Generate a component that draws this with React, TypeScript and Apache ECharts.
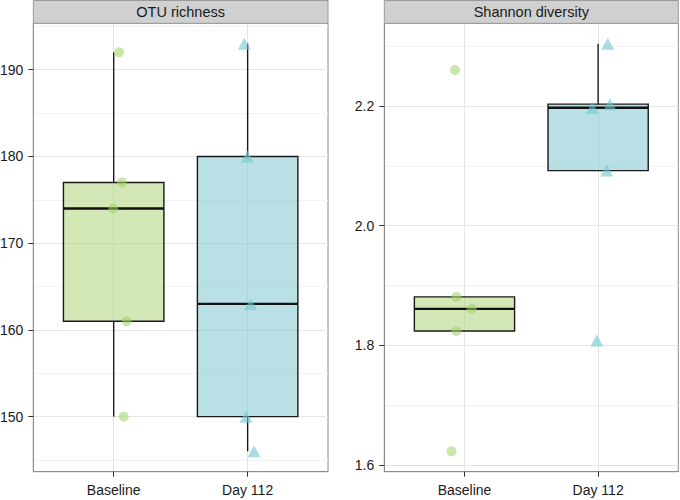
import React, { useEffect, useRef } from 'react';
import * as echarts from 'echarts';

const CATEGORIES = ['Baseline', 'Day 112'];
const PANEL_TITLES = ['OTU richness', 'Shannon diversity'];

const OTU_BASELINE = [192, 177, 174, 161, 150];
const OTU_BASELINE_JITTER = [0.04, 0.062, -0.003, 0.097, 0.075];
const OTU_DAY112 = [193, 180, 163, 150, 146];
const OTU_DAY112_JITTER = [-0.025, -0.002, 0.023, -0.012, 0.048];

const SHANNON_BASELINE = [2.26, 1.881, 1.861, 1.824, 1.623];
const SHANNON_BASELINE_JITTER = [-0.071, -0.061, 0.054, -0.061, -0.096];
const SHANNON_DAY112 = [2.304, 2.197, 2.203, 2.092, 1.808];
const SHANNON_DAY112_JITTER = [0.072, -0.043, 0.089, 0.064, -0.01];

const OTU_TICKS = [150, 160, 170, 180, 190];
const OTU_MINOR = [145, 155, 165, 175, 185, 195];
const SHANNON_TICKS = [1.6, 1.8, 2.0, 2.2];
const SHANNON_MINOR = [1.7, 1.9, 2.1, 2.3];

const BOX_FILLS = ['rgba(167,207,111,0.5)', 'rgba(115,195,203,0.5)'];
const POINT_COLORS = ['rgba(160,210,100,0.7)', 'rgba(110,200,208,0.75)'];
const BOX_WIDTH = 0.75;
const FONT = '"Liberation Sans", Arial, Helvetica, sans-serif';

function quantile(sorted: number[], p: number) {
  const h = (sorted.length - 1) * p;
  const lo = Math.floor(h);
  const hi = Math.ceil(h);
  return sorted[lo] + (h - lo) * (sorted[hi] - sorted[lo]);
}

function boxStats(vals: number[]) {
  const s = [...vals].sort((a, b) => a - b);
  const q1 = quantile(s, 0.25);
  const med = quantile(s, 0.5);
  const q3 = quantile(s, 0.75);
  const iqr = q3 - q1;
  const loLim = q1 - 1.5 * iqr;
  const hiLim = q3 + 1.5 * iqr;
  const lo = Math.min(...s.filter((v) => v >= loLim));
  const hi = Math.max(...s.filter((v) => v <= hiLim));
  return [lo, q1, med, q3, hi];
}

function expand(vals: number[]) {
  const mn = Math.min(...vals);
  const mx = Math.max(...vals);
  const pad = (mx - mn) * 0.05;
  return [mn - pad, mx + pad];
}

const PANELS = [
  {
    groups: [OTU_BASELINE, OTU_DAY112],
    jitter: [OTU_BASELINE_JITTER, OTU_DAY112_JITTER],
    ticks: OTU_TICKS,
    minor: OTU_MINOR,
    fmt: (v: number) => String(Math.round(v)),
  },
  {
    groups: [SHANNON_BASELINE, SHANNON_DAY112],
    jitter: [SHANNON_BASELINE_JITTER, SHANNON_DAY112_JITTER],
    ticks: SHANNON_TICKS,
    minor: SHANNON_MINOR,
    fmt: (v: number) => v.toFixed(1),
  },
];

const GRID_LEFT = [33.3, 384.3];
const GRID_WIDTH = [294.7, 294];
const GRID_TOP = 23.3;
const GRID_HEIGHT = 448.4;
const BORDER = '#8c8c8c';

export default function App() {
  const ref = useRef<HTMLDivElement>(null);

  useEffect(() => {
    if (!ref.current) return;
    const chart = echarts.init(ref.current, undefined, { renderer: 'svg' });

    const grids: any[] = [];
    const xAxes: any[] = [];
    const yAxes: any[] = [];
    const series: any[] = [];
    const graphics: any[] = [];

    PANELS.forEach((panel, i) => {
      const [ymin, ymax] = expand(panel.groups.flat());
      grids.push({
        left: GRID_LEFT[i],
        top: GRID_TOP,
        width: GRID_WIDTH[i],
        height: GRID_HEIGHT,
        show: true,
        backgroundColor: '#ffffff',
        borderColor: BORDER,
        borderWidth: 1,
        containLabel: false,
        outerBoundsMode: 'none',
      });
      xAxes.push({
        type: 'value',
        gridIndex: i,
        min: 0.4,
        max: 2.6,
        axisLine: { show: true, onZero: false, lineStyle: { color: BORDER, width: 1 } },
        splitLine: { show: false },
        minorSplitLine: { show: false },
        axisTick: { show: true, length: 5, lineStyle: { color: '#333', width: 1 }, customValues: [1, 2] },
        axisLabel: {
          customValues: [1, 2],
          formatter: (v: number) => (Number.isInteger(v) ? CATEGORIES[v - 1] ?? '' : ''),
          fontSize: 14,
          fontFamily: FONT,
          color: '#1a1a1a',
          margin: 11,
        },
      });
      yAxes.push({
        type: 'value',
        gridIndex: i,
        min: ymin,
        max: ymax,
        axisLine: { show: true, onZero: false, lineStyle: { color: BORDER, width: 1 } },
        splitLine: { show: false },
        minorSplitLine: { show: false },
        axisTick: { show: true, length: 5, lineStyle: { color: '#333', width: 1 }, customValues: panel.ticks },
        axisLabel: {
          customValues: panel.ticks,
          formatter: (v: number) => (panel.ticks.some((t) => Math.abs(t - v) < 1e-9) ? panel.fmt(v) : ''),
          fontSize: 14,
          fontFamily: FONT,
          color: '#1a1a1a',
          margin: 10,
        },
      });

      // gridlines
      const gridData: any[] = [];
      panel.minor.forEach((v) => gridData.push({ yAxis: v, lineStyle: { color: '#f3f3f3', width: 1, type: 'solid' } }));
      panel.ticks.forEach((v) => gridData.push({ yAxis: v, lineStyle: { color: '#e6e6e6', width: 1, type: 'solid' } }));
      [1, 2].forEach((v) => gridData.push({ xAxis: v, lineStyle: { color: '#e6e6e6', width: 1, type: 'solid' } }));
      series.push({
        type: 'scatter',
        xAxisIndex: i,
        yAxisIndex: i,
        data: [],
        z: 0,
        silent: true,
        markLine: {
          silent: true,
          symbol: ['none', 'none'],
          label: { show: false },
          animation: false,
          z: 0,
          data: gridData,
        },
      });

      // boxes
      const boxData = panel.groups.map((g, k) => [k + 1, ...boxStats(g)]);
      series.push({
        type: 'custom',
        xAxisIndex: i,
        yAxisIndex: i,
        z: 2,
        data: boxData,
        encode: { x: 0, y: [1, 2, 3, 4, 5] },
        renderItem: (params: any, api: any) => {
          const x = api.value(0);
          const lo = api.value(1);
          const q1 = api.value(2);
          const med = api.value(3);
          const q3 = api.value(4);
          const hi = api.value(5);
          const h = BOX_WIDTH / 2;
          const tl = api.coord([x - h, q3]);
          const br = api.coord([x + h, q1]);
          const pHi = api.coord([x, hi]);
          const pQ3 = api.coord([x, q3]);
          const pQ1 = api.coord([x, q1]);
          const pLo = api.coord([x, lo]);
          const mL = api.coord([x - h, med]);
          const mR = api.coord([x + h, med]);
          const stroke = '#1a1a1a';
          return {
            type: 'group',
            children: [
              { type: 'line', shape: { x1: pHi[0], y1: pHi[1], x2: pQ3[0], y2: pQ3[1] }, style: { stroke, lineWidth: 1.4 } },
              { type: 'line', shape: { x1: pQ1[0], y1: pQ1[1], x2: pLo[0], y2: pLo[1] }, style: { stroke, lineWidth: 1.4 } },
              {
                type: 'rect',
                shape: { x: tl[0], y: tl[1], width: br[0] - tl[0], height: br[1] - tl[1] },
                style: { fill: BOX_FILLS[params.dataIndex], stroke, lineWidth: 1.4 },
              },
              { type: 'line', shape: { x1: mL[0], y1: mL[1], x2: mR[0], y2: mR[1] }, style: { stroke: '#111', lineWidth: 2.4 } },
            ],
          };
        },
      });

      // points
      panel.groups.forEach((g, k) => {
        series.push({
          type: 'scatter',
          xAxisIndex: i,
          yAxisIndex: i,
          z: 3,
          symbol: k === 0 ? 'circle' : 'triangle',
          symbolSize: k === 0 ? 10 : [13, 12],
          itemStyle: { color: POINT_COLORS[k] },
          data: g.map((v, j) => [k + 1 + panel.jitter[k][j], v]),
        });
      });

      // strip
      graphics.push({
        type: 'rect',
        shape: { x: GRID_LEFT[i], y: 0.5, width: GRID_WIDTH[i], height: GRID_TOP - 0.5 },
        style: { fill: '#d0d0d0', stroke: '#9a9a9a', lineWidth: 1 },
        z: 10,
      });
      graphics.push({
        type: 'text',
        x: GRID_LEFT[i] + GRID_WIDTH[i] / 2,
        y: GRID_TOP / 2 + 0.5,
        style: {
          text: PANEL_TITLES[i],
          fontSize: 14.5,
          fontFamily: FONT,
          fill: '#1a1a1a',
          align: 'center',
          verticalAlign: 'middle',
        },
        z: 11,
      });
    });

    chart.setOption({
      animation: false,
      backgroundColor: '#ffffff',
      grid: grids,
      xAxis: xAxes,
      yAxis: yAxes,
      series,
      graphic: graphics,
    });

    return () => chart.dispose();
  }, []);

  return <div ref={ref} style={{ position: 'absolute', left: 0, top: 0, width: 680, height: 500 }} />;
}
